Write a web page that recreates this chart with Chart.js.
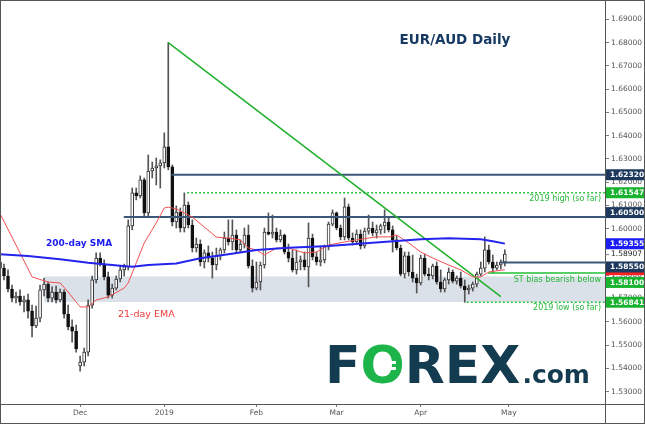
<!DOCTYPE html>
<html>
<head>
<meta charset="utf-8">
<script src="https://cdn.jsdelivr.net/npm/chart.js@4/dist/chart.umd.min.js"></script>
<style>
    html, body { margin: 0; padding: 0; background: #fff; }
    #wrap { width: 645px; height: 424px; }
</style>
</head>
<body>
<div id="wrap"><canvas id="chart"></canvas></div>
<script>
// daily EUR/AUD candles, bar 0 = 5 Nov 2018 (weekdays only)
const opens = [
    1.5857, 1.5831, 1.5797, 1.5741, 1.5702, 1.5711, 1.5685, 1.5694, 1.5646, 1.5582,
    1.5616, 1.5737, 1.5762, 1.5702, 1.5728, 1.5694, 1.5728, 1.5633, 1.5578, 1.5560,
    1.5410, 1.5427, 1.5470, 1.5672, 1.5780, 1.5874, 1.5848, 1.5793, 1.5715, 1.5745,
    1.5784, 1.5823, 1.5836, 1.6012, 1.6154, 1.6141, 1.6210, 1.6068, 1.6248, 1.6261,
    1.6270, 1.6283, 1.6352, 1.6266, 1.6029, 1.6072, 1.6003, 1.6102, 1.6016, 1.5917,
    1.5934, 1.5857, 1.5896, 1.5874, 1.5844, 1.5883, 1.5909, 1.5960, 1.5943, 1.5973,
    1.5909, 1.5934, 1.5973, 1.5840, 1.5745, 1.5771, 1.5844, 1.5986, 1.5977, 1.5986,
    1.5952, 1.5973, 1.5900, 1.5874, 1.5823, 1.5857, 1.5866, 1.5836, 1.5960, 1.5879,
    1.5857, 1.5866, 1.5922, 1.6020, 1.6068, 1.6003, 1.5965, 1.6094, 1.5960, 1.5943,
    1.5977, 1.5926, 1.5990, 1.6003, 1.5982, 1.5995, 1.6012, 1.6029, 1.5995, 1.5952,
    1.5917, 1.5805, 1.5883, 1.5814, 1.5788, 1.5767, 1.5874, 1.5805, 1.5797, 1.5840,
    1.5771, 1.5741, 1.5780, 1.5814, 1.5775, 1.5788, 1.5754, 1.5737, 1.5745, 1.5762,
    1.5805, 1.5831, 1.5909, 1.5857, 1.5831, 1.5844, 1.5857
];
const highs = [
    1.5874, 1.5848, 1.5823, 1.5758, 1.5728, 1.5737, 1.5711, 1.5719, 1.5672, 1.5668,
    1.5758, 1.5788, 1.5771, 1.5750, 1.5754, 1.5741, 1.5737, 1.5672, 1.5608, 1.5586,
    1.5453, 1.5487, 1.5694, 1.5797, 1.5896, 1.5896, 1.5866, 1.5814, 1.5762, 1.5797,
    1.5840, 1.5848, 1.6038, 1.6175, 1.6175, 1.6227, 1.6218, 1.6317, 1.6287, 1.6304,
    1.6296, 1.6412, 1.6800, 1.6274, 1.6098, 1.6089, 1.6154, 1.6115, 1.6038, 1.5960,
    1.5952, 1.5909, 1.5926, 1.5900, 1.5917, 1.5917, 1.5986, 1.6038, 1.6038, 1.5995,
    1.5952, 1.6003, 1.6016, 1.5866, 1.5857, 1.5857, 1.6003, 1.6068, 1.6059, 1.6003,
    1.5995, 1.5977, 1.5934, 1.5909, 1.5909, 1.5883, 1.5900, 1.6025, 1.5977, 1.5900,
    1.5922, 1.5930, 1.6029, 1.6081, 1.6072, 1.6016, 1.6132, 1.6106, 1.5982, 1.5995,
    1.5995, 1.6003, 1.6059, 1.6029, 1.6016, 1.6020, 1.6081, 1.6046, 1.6012, 1.5969,
    1.5930, 1.5900, 1.5900, 1.5887, 1.5805, 1.5887, 1.5891, 1.5831, 1.5848, 1.5857,
    1.5823, 1.5788, 1.5831, 1.5823, 1.5797, 1.5814, 1.5780, 1.5758, 1.5771, 1.5814,
    1.5857, 1.5965, 1.5930, 1.5887, 1.5857, 1.5866, 1.5909
];
const lows = [
    1.5814, 1.5780, 1.5728, 1.5685, 1.5681, 1.5672, 1.5642, 1.5616, 1.5535, 1.5575,
    1.5599, 1.5711, 1.5685, 1.5685, 1.5681, 1.5685, 1.5616, 1.5565, 1.5513, 1.5470,
    1.5388, 1.5410, 1.5453, 1.5659, 1.5767, 1.5840, 1.5780, 1.5702, 1.5702, 1.5737,
    1.5771, 1.5797, 1.5823, 1.5995, 1.6124, 1.6132, 1.6055, 1.6055, 1.6218, 1.6188,
    1.6175, 1.6261, 1.6253, 1.6012, 1.6003, 1.5986, 1.5986, 1.6003, 1.5900, 1.5900,
    1.5840, 1.5831, 1.5857, 1.5788, 1.5823, 1.5866, 1.5896, 1.5930, 1.5909, 1.5896,
    1.5900, 1.5917, 1.5831, 1.5728, 1.5737, 1.5737, 1.5831, 1.5973, 1.5960, 1.5943,
    1.5943, 1.5891, 1.5857, 1.5814, 1.5805, 1.5823, 1.5823, 1.5750, 1.5866, 1.5844,
    1.5840, 1.5853, 1.5909, 1.6012, 1.5995, 1.5952, 1.5952, 1.5952, 1.5930, 1.5934,
    1.5913, 1.5917, 1.5977, 1.5969, 1.5960, 1.5977, 1.5982, 1.5986, 1.5900, 1.5909,
    1.5797, 1.5788, 1.5797, 1.5771, 1.5724, 1.5758, 1.5797, 1.5780, 1.5784, 1.5762,
    1.5728, 1.5728, 1.5762, 1.5767, 1.5762, 1.5745, 1.5684, 1.5719, 1.5732, 1.5750,
    1.5797, 1.5814, 1.5848, 1.5810, 1.5823, 1.5827, 1.5840
];
const closes = [
    1.5831, 1.5797, 1.5741, 1.5702, 1.5711, 1.5685, 1.5694, 1.5646, 1.5582, 1.5616,
    1.5737, 1.5762, 1.5702, 1.5728, 1.5694, 1.5728, 1.5633, 1.5578, 1.5560, 1.5483,
    1.5427, 1.5470, 1.5672, 1.5780, 1.5874, 1.5848, 1.5793, 1.5715, 1.5745, 1.5784,
    1.5823, 1.5836, 1.6012, 1.6154, 1.6141, 1.6210, 1.6068, 1.6248, 1.6261, 1.6270,
    1.6283, 1.6352, 1.6266, 1.6029, 1.6072, 1.6003, 1.6102, 1.6016, 1.5917, 1.5934,
    1.5857, 1.5896, 1.5874, 1.5844, 1.5883, 1.5909, 1.5960, 1.5943, 1.5973, 1.5909,
    1.5934, 1.5973, 1.5840, 1.5745, 1.5771, 1.5844, 1.5986, 1.5977, 1.5986, 1.5952,
    1.5973, 1.5900, 1.5874, 1.5823, 1.5857, 1.5866, 1.5836, 1.5960, 1.5879, 1.5857,
    1.5866, 1.5922, 1.6020, 1.6068, 1.6003, 1.5965, 1.6094, 1.5960, 1.5943, 1.5977,
    1.5926, 1.5990, 1.6003, 1.5982, 1.5995, 1.6012, 1.6029, 1.5995, 1.5952, 1.5917,
    1.5805, 1.5883, 1.5814, 1.5788, 1.5767, 1.5874, 1.5805, 1.5797, 1.5840, 1.5771,
    1.5741, 1.5780, 1.5814, 1.5775, 1.5788, 1.5754, 1.5737, 1.5745, 1.5762, 1.5805,
    1.5831, 1.5909, 1.5857, 1.5831, 1.5844, 1.5857, 1.58907
];

// moving averages at these bars
const smaBars = [0, 7, 15, 22, 30, 33, 37, 44, 50, 57, 64, 72, 82, 93, 105, 112, 120, 123, 126];
const smaValues = [1.5890, 1.5883, 1.5869, 1.5854, 1.5841, 1.5837, 1.5844, 1.5851, 1.5873, 1.5890,
    1.5909, 1.5918, 1.5926, 1.5940, 1.5955, 1.5959, 1.5955, 1.5946, 1.5936];
const emaBars = [0, 5, 8, 12, 15, 17, 20, 22, 24, 27, 31, 32, 34, 36, 39, 41, 42, 44, 48, 51,
    54, 57, 60, 62, 64, 66, 69, 72, 76, 79, 82, 86, 89, 92, 94, 97, 99, 102, 105, 108,
    112, 115, 118, 120, 122, 126];
const emaValues = [1.6065, 1.5896, 1.5793, 1.5771, 1.5767, 1.5728, 1.5664, 1.5664, 1.5694, 1.5707,
    1.5745, 1.5767, 1.5853, 1.5939, 1.6025, 1.6089, 1.6093, 1.6085, 1.6050, 1.6007,
    1.5964, 1.5960, 1.5952, 1.5917, 1.5909, 1.5887, 1.5917, 1.5917, 1.5896, 1.5900,
    1.5930, 1.5943, 1.5952, 1.5960, 1.5965, 1.5965, 1.5973, 1.5939, 1.5900, 1.5874,
    1.5844, 1.5823, 1.5793, 1.5793, 1.5814, 1.5824];

const trendBars = [42, 125];
const trendValues = [1.6800, 1.5708];

const levelValues = [1.62320, 1.60500, 1.61547, 1.58550, 1.58100, 1.56841];
const levelStart = [42.8, 30.9, 46.7, 124.8, 121.8, 116.5];
const zoneRange = [1.5685, 1.5795];
const zoneStart = 11;

const monthBars = [20, 41, 64, 84, 105, 127];
const monthLabels = ['Dec', '2019', 'Feb', 'Mar', 'Apr', 'May'];
const priceTicks = [1.53, 1.54, 1.55, 1.56, 1.57, 1.58, 1.59, 1.60, 1.61, 1.62,
    1.63, 1.64, 1.65, 1.66, 1.67, 1.68, 1.69];

const tagValues = [1.58240, 1.62320, 1.61547, 1.60500, 1.59355, 1.58550, 1.58100, 1.56841];
const lastPrice = 1.58907;

const NAVY = '#3c5878';
const GREEN = '#27b83a';
const tagColors = ['#ff2020', '#1d3a5e', '#19b330', '#1d3a5e', '#1c1cf5', '#1d3a5e', '#19b330', '#19b330'];
const tagNudge = [0, 0, 0, -4.5, 0, 4.5, 9.5, 0];
const X_MAX = 151;

Chart.defaults.font.family = 'DejaVu Sans';
Chart.defaults.font.size = 7.5;
Chart.defaults.color = '#555';

const wickData = opens.map((o, i) => ({ x: i, y: [lows[i], highs[i]] }));
const bodyData = opens.map((o, i) => ({ x: i, y: [o, closes[i]] }));
const isUp = i => closes[i] >= opens[i];
const points = (xs, ys) => xs.map((x, i) => ({ x: x, y: ys[i] }));

const levelStyles = [
    { color: NAVY, width: 2, dash: [] },
    { color: NAVY, width: 2, dash: [] },
    { color: '#2dc23d', width: 1.5, dash: [2, 2] },
    { color: NAVY, width: 2, dash: [] },
    { color: '#22c034', width: 1.5, dash: [] },
    { color: '#2dc23d', width: 1.5, dash: [2, 2] }
];

const levelSets = levelValues.map((v, i) => ({
    type: 'line',
    data: [{ x: levelStart[i], y: v }, { x: X_MAX, y: v }],
    borderColor: levelStyles[i].color,
    borderWidth: levelStyles[i].width,
    borderDash: levelStyles[i].dash,
    pointRadius: 0,
    order: 1
}));

const decor = {
    id: 'decor',
    beforeDatasetsDraw(chart) {
        const { ctx, chartArea, scales } = chart;
        const x0 = scales.x.getPixelForValue(zoneStart);
        const yTop = scales.y.getPixelForValue(zoneRange[1]);
        const yBot = scales.y.getPixelForValue(zoneRange[0]);
        ctx.save();
        ctx.fillStyle = '#dbe1e8';
        ctx.fillRect(x0, yTop, chartArea.right - x0, yBot - yTop);
        ctx.restore();
    },
    afterDraw(chart) {
        const { ctx, chartArea, scales } = chart;
        const W = chart.width, H = chart.height;
        ctx.save();

        // frame pieces outside the plot
        ctx.strokeStyle = '#555';
        ctx.lineWidth = 1;
        ctx.beginPath();
        ctx.moveTo(chartArea.right, chartArea.bottom + 0.5);
        ctx.lineTo(W, chartArea.bottom + 0.5);
        ctx.moveTo(chartArea.right + 0.5, chartArea.bottom);
        ctx.lineTo(chartArea.right + 0.5, H);
        ctx.stroke();
        ctx.strokeRect(0.5, 0.5, W - 1, H - 1);

        // price tags on the right axis
        ctx.textBaseline = 'middle';
        ctx.textAlign = 'left';
        const tx = chartArea.right + 1;
        const py = scales.y.getPixelForValue(lastPrice);
        ctx.fillStyle = '#fff';
        ctx.fillRect(tx, py - 5, W - tx - 1, 10);
        ctx.strokeStyle = '#777';
        ctx.beginPath();
        ctx.moveTo(chartArea.right, py + 0.5);
        ctx.lineTo(chartArea.right + 4, py + 0.5);
        ctx.stroke();
        ctx.fillStyle = '#222';
        ctx.font = '7.5px "DejaVu Sans"';
        ctx.fillText(lastPrice.toFixed(5), chartArea.right + 6, py);

        ctx.font = 'bold 7.5px "DejaVu Sans"';
        tagValues.forEach((v, i) => {
            const y = scales.y.getPixelForValue(v) + tagNudge[i];
            ctx.fillStyle = tagColors[i];
            ctx.fillRect(tx, y - 5.5, W - tx - 1, 11);
            ctx.fillStyle = '#fff';
            ctx.fillText(v.toFixed(5), chartArea.right + 5, y + 0.5);
        });

        // title
        ctx.textAlign = 'center';
        ctx.fillStyle = '#173a63';
        ctx.font = 'bold 13.5px "DejaVu Sans"';
        ctx.fillText('EUR/AUD Daily', 455, 40);

        // annotations
        ctx.textAlign = 'left';
        ctx.fillStyle = '#1a1aee';
        ctx.font = 'bold 9px "DejaVu Sans"';
        ctx.fillText('200-day SMA', 46, 244);
        ctx.fillStyle = '#ee3b3b';
        ctx.font = '9.5px "DejaVu Sans"';
        ctx.fillText('21-day EMA', 118, 315);

        ctx.textAlign = 'right';
        ctx.fillStyle = GREEN;
        ctx.font = '8px "DejaVu Sans"';
        ctx.fillText('2019 high (so far)', 601, 199);
        ctx.fillText('ST bias bearish below', 601, 280);
        ctx.fillText('2019 low (so far)', 601, 308);

        // FOREX.com logo
        ctx.textAlign = 'left';
        ctx.textBaseline = 'alphabetic';
        ctx.font = 'bold 52px "DejaVu Sans"';
        let lx = 325;
        const base = 383;
        ctx.fillStyle = '#133c51';
        ctx.fillText('F', lx, base);
        lx += ctx.measureText('F').width;
        ctx.fillStyle = '#1db54a';
        ctx.fillText('O', lx, base);
        const ow = ctx.measureText('O').width;
        ctx.fillStyle = '#fff';
        ctx.fillRect(lx + ow * 0.5, base - 22, ow * 0.3, 3);
        ctx.fillRect(lx + ow * 0.5, base - 16, ow * 0.3, 3);
        lx += ow;
        ctx.fillStyle = '#133c51';
        ctx.fillText('REX', lx, base);
        lx += ctx.measureText('REX').width + 2;
        ctx.font = 'bold 25px "DejaVu Sans"';
        ctx.fillText('.com', lx, base);

        ctx.restore();
    }
};

const onload = () => {
    const ctx = document.getElementById('chart').getContext('2d');
    new Chart(ctx, {
        type: 'bar',
        data: {
            datasets: [
                {
                    type: 'line',
                    data: points(smaBars, smaValues),
                    borderColor: '#2424ee',
                    borderWidth: 2,
                    pointRadius: 0,
                    order: 0
                },
                {
                    type: 'line',
                    data: points(emaBars, emaValues),
                    borderColor: '#f25050',
                    borderWidth: 1,
                    pointRadius: 0,
                    order: 0
                },
                {
                    type: 'line',
                    data: points(trendBars, trendValues),
                    borderColor: '#1fb02c',
                    borderWidth: 1.5,
                    pointRadius: 0,
                    order: 0
                },
                ...levelSets,
                {
                    data: bodyData,
                    barThickness: 3,
                    grouped: false,
                    borderSkipped: false,
                    borderWidth: 1,
                    backgroundColor: c => isUp(c.dataIndex) ? '#fff' : '#111',
                    borderColor: c => isUp(c.dataIndex) ? '#333' : '#111',
                    order: 5
                },
                {
                    data: wickData,
                    barThickness: 1,
                    grouped: false,
                    backgroundColor: '#555',
                    order: 6
                }
            ]
        },
        options: {
            responsive: true,
            maintainAspectRatio: false,
            animation: false,
            layout: { padding: 0 },
            plugins: {
                legend: { display: false },
                tooltip: { enabled: false }
            },
            scales: {
                x: {
                    type: 'linear',
                    min: 0,
                    max: X_MAX,
                    offset: false,
                    grid: { drawOnChartArea: false, offset: false, tickLength: 3, color: '#777' },
                    border: { display: true, color: '#555' },
                    ticks: {
                        padding: 2,
                        color: '#555',
                        maxRotation: 0,
                        callback: v => monthLabels[monthBars.indexOf(v)] || ''
                    },
                    afterBuildTicks: s => { s.ticks = monthBars.map(v => ({ value: v })); },
                    afterFit: s => {
                        s.height = 20;
                        s.paddingLeft = 0;
                        s.paddingRight = 0;
                    }
                },
                y: {
                    position: 'right',
                    min: 1.52468,
                    max: 1.69829,
                    grid: { drawOnChartArea: false, tickLength: 4, color: '#777' },
                    border: { display: true, color: '#555' },
                    ticks: {
                        padding: 2,
                        color: '#555',
                        callback: v => v.toFixed(5)
                    },
                    afterBuildTicks: s => { s.ticks = priceTicks.map(v => ({ value: v })); },
                    afterFit: s => {
                        s.width = 40;
                        s.paddingTop = 0;
                        s.paddingBottom = 0;
                    }
                }
            }
        },
        plugins: [decor]
    });
};

document.addEventListener('DOMContentLoaded', onload);
</script>
</body>
</html>
